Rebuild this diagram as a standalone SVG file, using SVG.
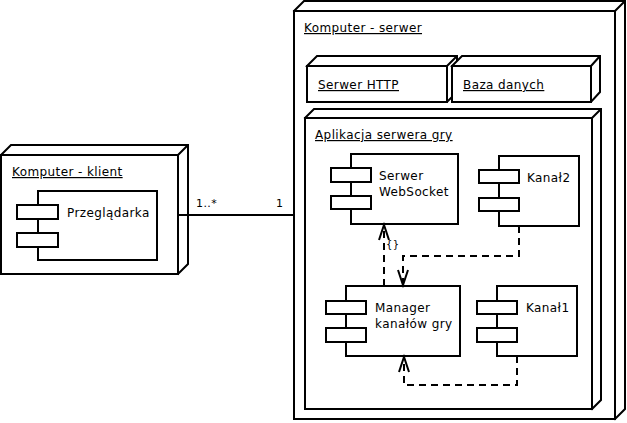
<svg xmlns="http://www.w3.org/2000/svg" width="627" height="423" viewBox="0 0 627 423">
<style>
.n{fill:#fff;stroke:#000;stroke-width:2;stroke-linejoin:miter}
.t{font-family:"DejaVu Sans",sans-serif;font-size:12px;fill:#000;letter-spacing:0.4px}
.u{text-decoration:underline}
.c{fill:none;stroke:#000;stroke-width:2}
.d{stroke-dasharray:7,5}
</style>
<defs>
<marker id="open" markerUnits="userSpaceOnUse" viewBox="-16 -8 20 16" markerWidth="20" markerHeight="16" refX="0" refY="0" orient="auto">
<path d="M-15,-5 L0,0 L-15,5" fill="none" stroke="#000" stroke-width="2" stroke-dasharray="none"/>
</marker>
</defs>
<rect width="627" height="423" fill="#fff"/>
<g id="klient">
<path class="n" d="M1,155 L11,145 H188 V264 L178,274 Z"/>
<path class="n" d="M1,155 H178 V274 H1 Z M178,155 L188,145"/>
<text class="t u" x="12" y="176">Komputer - klient</text>
</g>
<g id="przegladarka">
<rect class="n" x="38" y="191" width="119" height="69"/>
<rect class="n" x="17" y="205" width="41" height="14"/>
<rect class="n" x="17" y="233" width="41" height="14"/>
<text class="t" x="67" y="217">Przeglądarka</text>
</g>
<g id="serwer">
<path class="n" d="M294,11 L304,1 H625 V409 L615,419 Z"/>
<path class="n" d="M294,11 H615 V419 H294 Z M615,11 L625,1"/>
<text class="t u" x="304" y="32">Komputer - serwer</text>
</g>
<g id="http">
<path class="n" d="M307,66 L317,56 H457 V92 L447,102 Z"/>
<path class="n" d="M307,66 H447 V102 H307 Z M447,66 L457,56"/>
<text class="t u" x="318" y="89">Serwer HTTP</text>
</g>
<g id="baza">
<path class="n" d="M452,66 L462,56 H600 V92 L591,102 Z"/>
<path class="n" d="M452,66 H591 V102 H452 Z M591,66 L600,56"/>
<text class="t u" x="463" y="89">Baza danych</text>
</g>
<g id="aplikacja">
<path class="n" d="M305,118 L314,109 H601 V400 L592,409 Z"/>
<path class="n" d="M305,118 H592 V409 H305 Z M592,118 L601,109"/>
<text class="t u" x="315" y="139">Aplikacja serwera gry</text>
</g>
<g id="websocket">
<rect class="n" x="351" y="154" width="107" height="70"/>
<rect class="n" x="331" y="168" width="40" height="14"/>
<rect class="n" x="331" y="196" width="40" height="13"/>
<text class="t" x="379" y="180">Serwer</text>
<text class="t" x="379" y="196">WebSocket</text>
</g>
<g id="kanal2">
<rect class="n" x="499" y="156" width="80" height="70"/>
<rect class="n" x="479" y="170" width="40" height="13"/>
<rect class="n" x="479" y="198" width="40" height="13"/>
<text class="t" x="527" y="182">Kanał2</text>
</g>
<g id="manager">
<rect class="n" x="346" y="286" width="114" height="70"/>
<rect class="n" x="326" y="301" width="40" height="13"/>
<rect class="n" x="326" y="328" width="40" height="14"/>
<text class="t" x="375" y="312">Manager</text>
<text class="t" x="375" y="328">kanałów gry</text>
</g>
<g id="kanal1">
<rect class="n" x="497" y="286" width="80" height="70"/>
<rect class="n" x="477" y="301" width="40" height="13"/>
<rect class="n" x="477" y="328" width="40" height="14"/>
<text class="t" x="526" y="312">Kanał1</text>
</g>
<g id="connectors">
<path class="c" d="M178,215 H294"/>
<text class="t" x="196" y="207" style="font-size:11px">1..*</text>
<text class="t" x="276" y="207" style="font-size:11px">1</text>
<path class="c d" d="M519,226 V256 H403 V285" marker-end="url(#open)"/>
<path class="c d" d="M384,286 V225" marker-end="url(#open)"/>
<text class="t" x="386" y="248" style="font-size:10px">{}</text>
<path class="c d" d="M517,356 V385 H404 V357" marker-end="url(#open)"/>
</g>
</svg>
